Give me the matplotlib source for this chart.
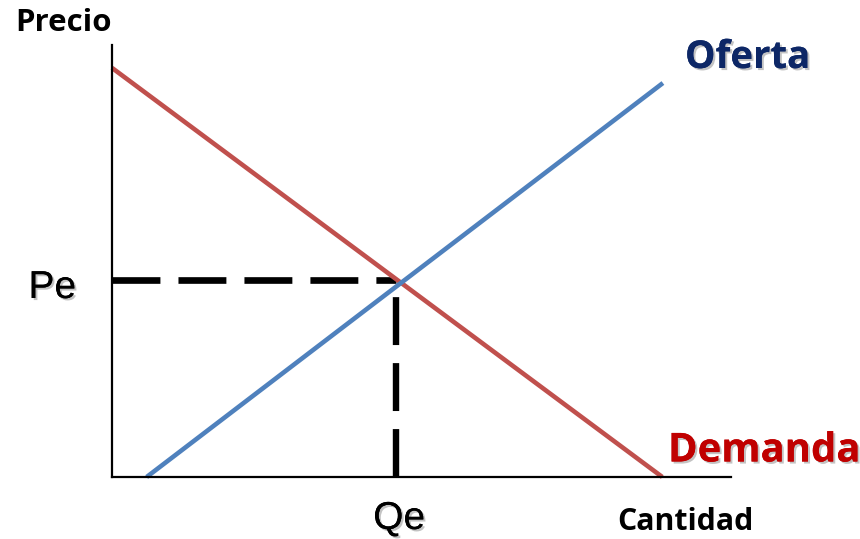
import matplotlib.pyplot as plt
import matplotlib.patheffects as pe

# Curves (quantity, price) in chart units
demand_q = [0, 88.9]
demand_p = [94.7, 0]
supply_q = [5.6, 89.0]
supply_p = [0, 91.2]

# Equilibrium
qe = 45.9
pe_val = 45.6

labels = {"price": "Precio", "qty": "Cantidad", "supply": "Oferta",
          "demand": "Demanda", "pe": "Pe", "qe": "Qe"}

W, H = 860, 539
fig = plt.figure(figsize=(W / 100, H / 100), dpi=100)
ax = fig.add_axes([112 / W, (H - 477) / H, (731 - 112) / W, (477 - 45) / H])
ax.set_xlim(0, 100)
ax.set_ylim(0, 100)

for s in ["top", "right"]:
    ax.spines[s].set_visible(False)
for s in ["left", "bottom"]:
    ax.spines[s].set_linewidth(1.6)
    ax.spines[s].set_color("black")
ax.set_xticks([])
ax.set_yticks([])

plt.rcParams["lines.scale_dashes"] = False
ax.plot([0, qe], [pe_val, pe_val], color="black", lw=4.8, dashes=(34.5, 13),
        dash_capstyle="butt", clip_on=False, zorder=1)
ax.plot([qe, qe], [0, pe_val], color="black", lw=4.6, dashes=(34.5, 13),
        dash_capstyle="butt", clip_on=False, zorder=1)

ax.plot(demand_q, demand_p, color="#C0504D", lw=3.3, solid_capstyle="butt", clip_on=False)
ax.plot(supply_q, supply_p, color="#4F81BD", lw=3.3, solid_capstyle="butt", clip_on=False)

bold = ["Open Sans", "DejaVu Sans"]
arial = ["Liberation Sans", "DejaVu Sans"]
shadow = [pe.withSimplePatchShadow(offset=(1.5, -1.5), shadow_rgbFace="#888888", alpha=0.5), pe.Normal()]

fig.text(15 / W, 1 - 23 / H, labels["price"], family=bold, weight="bold",
         fontsize=22.5, va="center", ha="left")
fig.text(617 / W, 1 - 522 / H, labels["qty"], family=bold, weight="bold",
         fontsize=21.8, va="center", ha="left")
fig.text(685 / W, 1 - 58 / H, labels["supply"], family=bold, weight="bold",
         fontsize=27.6, va="center", ha="left", color="#0D2766", path_effects=shadow)
fig.text(668 / W, 1 - 451 / H, labels["demand"], family=bold, weight="bold",
         fontsize=28.8, va="center", ha="left", color="#C00000", path_effects=shadow)

ax.annotate(labels["pe"], (0, pe_val), xytext=(-36, -8), textcoords="offset pixels",
            family=arial, fontsize=28, va="center", ha="right", path_effects=shadow,
            annotation_clip=False)
ax.annotate(labels["qe"], (qe, 0), xytext=(3, -42), textcoords="offset pixels",
            family=arial, fontsize=28, va="center", ha="center", path_effects=shadow,
            annotation_clip=False)

fig.savefig("out.png", dpi=100)
